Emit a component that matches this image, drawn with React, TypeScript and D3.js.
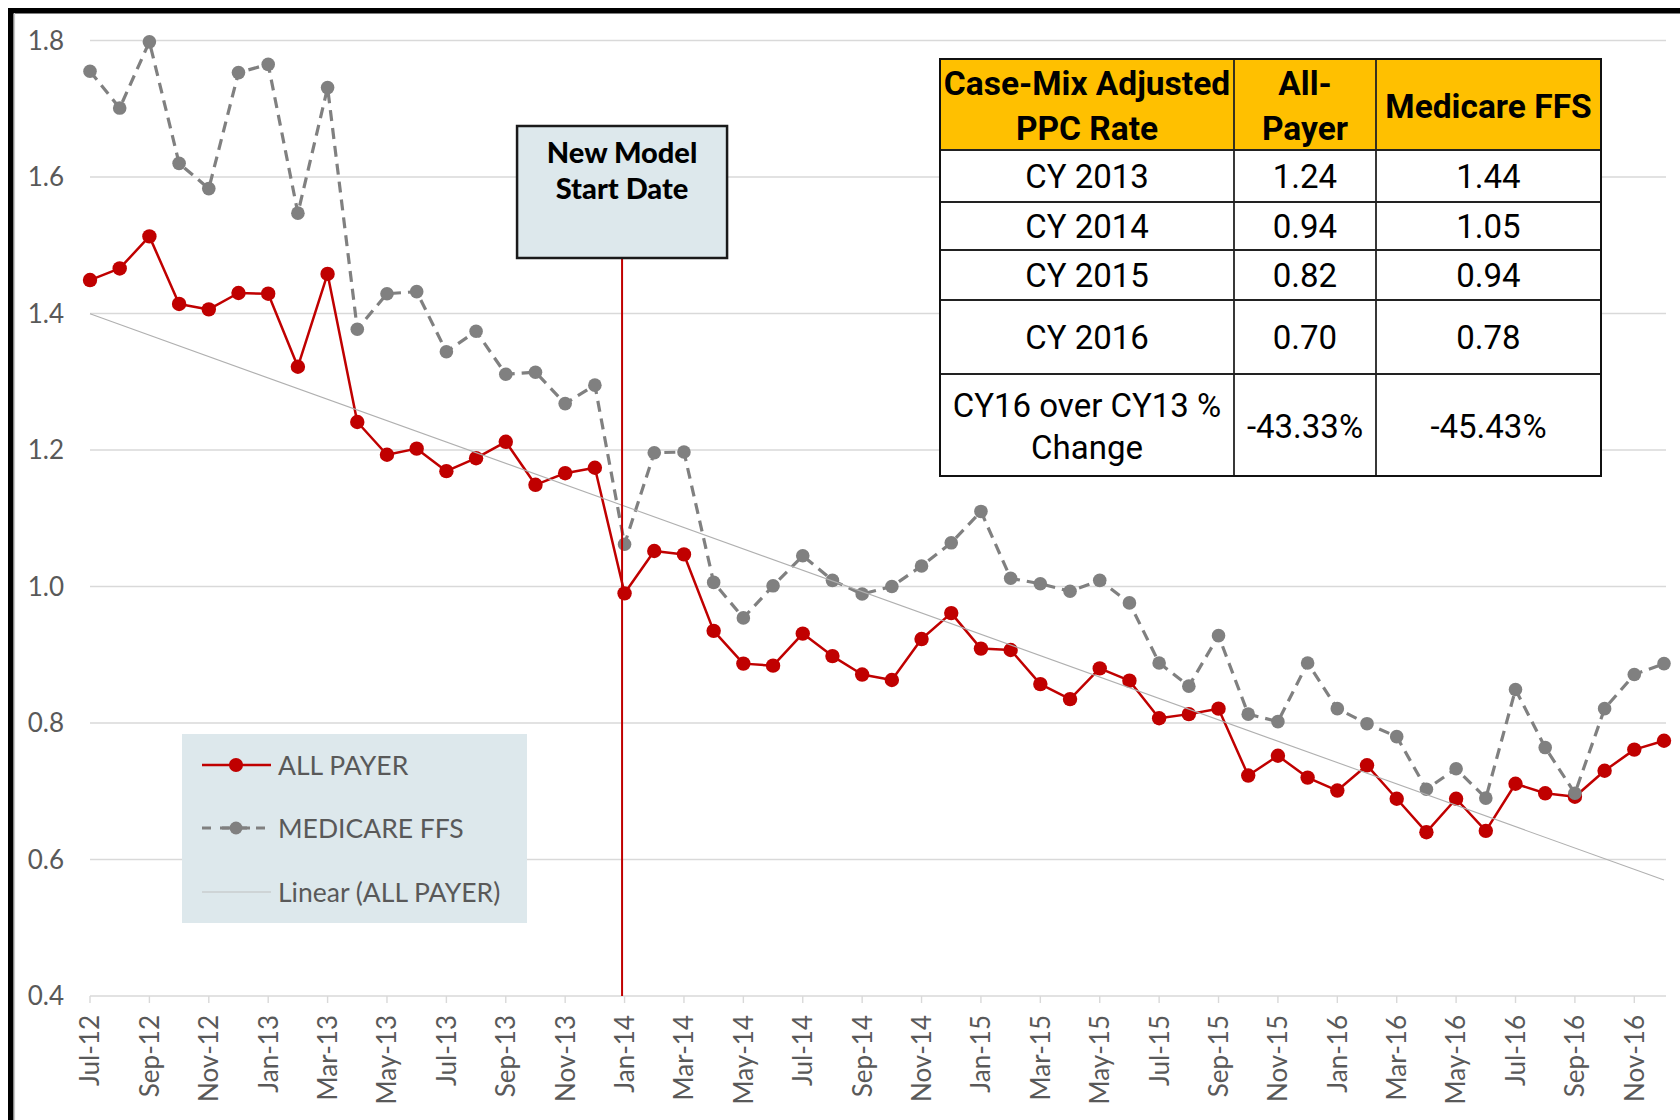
import { scaleLinear, scalePoint, line } from "d3"

// months on the x axis, one point per month
const months = [
  "Jul-12", "Aug-12", "Sep-12", "Oct-12", "Nov-12", "Dec-12",
  "Jan-13", "Feb-13", "Mar-13", "Apr-13", "May-13", "Jun-13",
  "Jul-13", "Aug-13", "Sep-13", "Oct-13", "Nov-13", "Dec-13",
  "Jan-14", "Feb-14", "Mar-14", "Apr-14", "May-14", "Jun-14",
  "Jul-14", "Aug-14", "Sep-14", "Oct-14", "Nov-14", "Dec-14",
  "Jan-15", "Feb-15", "Mar-15", "Apr-15", "May-15", "Jun-15",
  "Jul-15", "Aug-15", "Sep-15", "Oct-15", "Nov-15", "Dec-15",
  "Jan-16", "Feb-16", "Mar-16", "Apr-16", "May-16", "Jun-16",
  "Jul-16", "Aug-16", "Sep-16", "Oct-16", "Nov-16", "Dec-16"
]

const allPayer = [
  1.449, 1.466, 1.513, 1.414, 1.406, 1.430,
  1.429, 1.322, 1.458, 1.241, 1.193, 1.202,
  1.169, 1.188, 1.212, 1.149, 1.166, 1.174,
  0.990, 1.052, 1.047, 0.935, 0.887, 0.884,
  0.931, 0.898, 0.871, 0.863, 0.923, 0.961,
  0.909, 0.907, 0.857, 0.835, 0.880, 0.862,
  0.807, 0.813, 0.821, 0.723, 0.752, 0.720,
  0.701, 0.738, 0.689, 0.640, 0.689, 0.642,
  0.711, 0.697, 0.692, 0.730, 0.761, 0.774
]

const medicareFfs = [
  1.755, 1.701, 1.798, 1.620, 1.583, 1.753,
  1.765, 1.547, 1.731, 1.377, 1.429, 1.432,
  1.344, 1.374, 1.311, 1.314, 1.268, 1.295,
  1.062, 1.196, 1.197, 1.006, 0.954, 1.001,
  1.045, 1.009, 0.989, 1.000, 1.030, 1.064,
  1.110, 1.012, 1.004, 0.993, 1.009, 0.976,
  0.888, 0.854, 0.928, 0.813, 0.802, 0.888,
  0.821, 0.799, 0.780, 0.703, 0.733, 0.690,
  0.849, 0.764, 0.697, 0.821, 0.871, 0.887
]

const yTicks = [0.4, 0.6, 0.8, 1.0, 1.2, 1.4, 1.6, 1.8]
const yTickLabels = ["0.4", "0.6", "0.8", "1.0", "1.2", "1.4", "1.6", "1.8"]
const xTickLabels = months.filter((m, i) => i % 2 === 0)

const legendLabels = ["ALL PAYER", "MEDICARE FFS", "Linear (ALL PAYER)"]
const noteLines = ["New Model", "Start Date"]
const noteMonth = "Jan-14"

// summary table
const tableHead = [["Case-Mix Adjusted", "PPC Rate"], ["All-", "Payer"], ["Medicare FFS"]]
const tableYears = ["CY 2013", "CY 2014", "CY 2015", "CY 2016"]
const tableAllPayer = ["1.24", "0.94", "0.82", "0.70"]
const tableMedicare = ["1.44", "1.05", "0.94", "0.78"]
const changeLabel = ["CY16 over CY13 %", "Change"]
const changeValues = ["-43.33%", "-45.43%"]

const RED = "#c00000"
const GRAY = "#808080"
const TXT = "#595959"
const GRID = "#d9d9d9"
const PANEL = "#dde8ec"
const AXIS_FONT = "Lato, 'Open Sans', sans-serif"
const TABLE_FONT = "Roboto, 'Liberation Sans', sans-serif"

// least squares trend like excel's linear trendline
function trend(values) {
  const n = values.length
  const mx = (n - 1) / 2
  const my = values.reduce((a, b) => a + b, 0) / n
  let sxy = 0, sxx = 0
  values.forEach((v, i) => {
    sxy += (i - mx) * (v - my)
    sxx += (i - mx) * (i - mx)
  })
  const slope = sxy / sxx
  return values.map((v, i) => my + slope * (i - mx))
}

function Table() {
  const cols = [940, 1234, 1376, 1601]
  const rows = [59, 150, 202, 250, 300, 374, 476]
  const cx = (c) => (cols[c] + cols[c + 1]) / 2
  const cy = (r) => (rows[r] + rows[r + 1]) / 2
  const body = tableYears.map((yr, i) => [yr, tableAllPayer[i], tableMedicare[i]])
  return (
    <g fontFamily={TABLE_FONT} fill="#000">
      <rect x={cols[0]} y={rows[0]} width={cols[3] - cols[0]} height={rows[6] - rows[0]} fill="#fff" />
      <rect x={cols[0]} y={rows[0]} width={cols[3] - cols[0]} height={rows[1] - rows[0]} fill="#ffc000" />
      {tableHead.map((lines, c) => (
        <text key={c} x={cx(c)} textAnchor="middle" fontSize={33.5} fontWeight={700}>
          {lines.map((t, k) => (
            <tspan key={k} x={cx(c)} y={cy(0) + 13 + (k - (lines.length - 1) / 2) * 45}>{t}</tspan>
          ))}
        </text>
      ))}
      {body.map((cells, r) => cells.map((t, c) => (
        <text key={`${r}-${c}`} x={cx(c)} y={cy(r + 1) + 12} textAnchor="middle" fontSize={33}>{t}</text>
      )))}
      <text x={cx(0)} textAnchor="middle" fontSize={33}>
        {changeLabel.map((t, k) => (
          <tspan key={k} x={cx(0)} y={cy(5) + 13 + (k - 0.5) * 42}>{t}</tspan>
        ))}
      </text>
      {changeValues.map((t, k) => (
        <text key={k} x={cx(k + 1)} y={cy(5) + 13} textAnchor="middle" fontSize={33}>{t}</text>
      ))}
      {rows.slice(1, 6).map((r) => (
        <line key={r} x1={cols[0]} x2={cols[3]} y1={r} y2={r} stroke="#222" strokeWidth={1.8} />
      ))}
      {cols.slice(1, 3).map((c) => (
        <line key={c} x1={c} x2={c} y1={rows[0]} y2={rows[6]} stroke="#222" strokeWidth={1.8} />
      ))}
      <rect x={cols[0]} y={rows[0]} width={cols[3] - cols[0]} height={rows[6] - rows[0]} fill="none" stroke="#111" strokeWidth={2} />
    </g>
  )
}

function Legend() {
  const box = { x: 182, y: 734, w: 345, h: 189 }
  const rowsY = [765, 828, 892]
  const x1 = 202, x2 = 271, mx = 236
  return (
    <g>
      <rect x={box.x} y={box.y} width={box.w} height={box.h} fill={PANEL} />
      <line x1={x1} x2={x2} y1={rowsY[0]} y2={rowsY[0]} stroke={RED} strokeWidth={2.5} />
      <circle cx={mx} cy={rowsY[0]} r={7} fill={RED} />
      <line x1={x1} x2={x2} y1={rowsY[1]} y2={rowsY[1]} stroke={GRAY} strokeWidth={3} strokeDasharray="9,9" />
      <line x1={mx - 14} x2={mx + 14} y1={rowsY[1]} y2={rowsY[1]} stroke={GRAY} strokeWidth={3} />
      <circle cx={mx} cy={rowsY[1]} r={6.5} fill={GRAY} />
      <line x1={x1} x2={x2} y1={rowsY[2]} y2={rowsY[2]} stroke="#bfbfbf" strokeWidth={1.2} />
      {legendLabels.map((t, i) => (
        <text key={t} x={278} y={rowsY[i]} dy="0.36em" fontSize={26.5} fill={TXT} fontFamily={AXIS_FONT}>{t}</text>
      ))}
    </g>
  )
}

export default function App() {
  const width = 1680
  const height = 1120
  const x = scalePoint().domain(months).range([90, 1664])
  const y = scaleLinear().domain([0.4, 1.8]).range([996, 40.5])

  const path = line().x((d, i) => x(months[i])).y((d) => y(d))
  const fit = trend(allPayer)
  const trendD = `M${x(months[0])},${y(fit[0])}L${x(months[months.length - 1])},${y(fit[fit.length - 1])}`

  const noteX = x(noteMonth) - 2.5
  const noteBox = { w: 210, top: 126, bottom: 258 }

  return (
    <svg width={width} height={height} style={{ position: "absolute", left: 0, top: 0, background: "#fff" }}>
      {/* frame */}
      <rect x={8} y={8} width={width - 8} height={5.5} fill="#000" />
      <rect x={8} y={8} width={5.5} height={height - 8} fill="#000" />
      <line x1={14.5} x2={14.5} y1={13} y2={height} stroke="#c8c8c8" strokeWidth={1.2} />

      {/* grid */}
      {yTicks.map((t) => (
        <line key={t} x1={90} x2={1666} y1={y(t)} y2={y(t)} stroke={GRID} strokeWidth={1.4} />
      ))}
      {xTickLabels.map((m) => (
        <line key={m} x1={x(m)} x2={x(m)} y1={y(0.4)} y2={y(0.4) + 7} stroke={GRID} strokeWidth={1.4} />
      ))}

      {/* axis labels */}
      <g fontFamily={AXIS_FONT} fontSize={26} fill={TXT}>
        {yTicks.map((t, i) => (
          <text key={t} x={64} y={y(t)} dy="0.36em" textAnchor="end">{yTickLabels[i]}</text>
        ))}
        {xTickLabels.map((m) => (
          <text key={m} transform={`translate(${x(m)},${1015}) rotate(-90)`} dy="0.36em" textAnchor="end">{m}</text>
        ))}
      </g>

      {/* series */}
      <path d={path(allPayer)} fill="none" stroke={RED} strokeWidth={2.5} strokeLinejoin="round" />
      {allPayer.map((v, i) => (
        <circle key={i} cx={x(months[i])} cy={y(v)} r={7.2} fill={RED} />
      ))}
      <path d={path(medicareFfs)} fill="none" stroke={GRAY} strokeWidth={3.2} strokeDasharray="11,7" />
      {medicareFfs.map((v, i) => (
        <circle key={i} cx={x(months[i])} cy={y(v)} r={6.8} fill={GRAY} />
      ))}
      <path d={trendD} fill="none" stroke="#b0b0b0" strokeWidth={1.1} />

      {/* model start annotation */}
      <line x1={noteX} x2={noteX} y1={noteBox.bottom} y2={y(0.4)} stroke={RED} strokeWidth={2} />
      <rect x={noteX - noteBox.w / 2} y={noteBox.top} width={noteBox.w} height={noteBox.bottom - noteBox.top}
        fill={PANEL} stroke="#1a1a1a" strokeWidth={2.5} />
      <text textAnchor="middle" fontFamily={AXIS_FONT} fontWeight={900} fontSize={29} fill="#000">
        {noteLines.map((t, k) => (
          <tspan key={k} x={noteX} y={163 + k * 36}>{t}</tspan>
        ))}
      </text>

      <Legend />
      <Table />
    </svg>
  )
}
